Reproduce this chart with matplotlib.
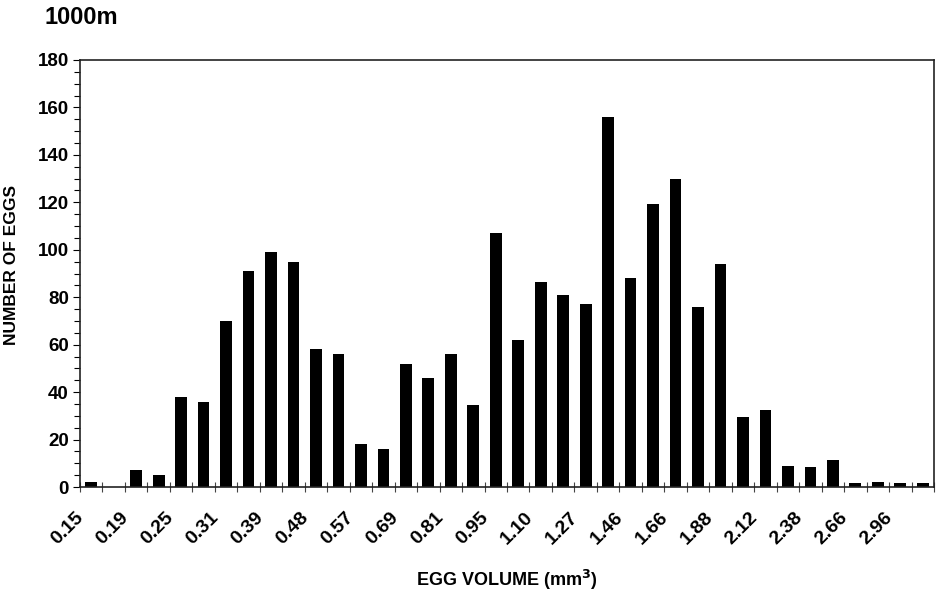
import numpy as np
import matplotlib
matplotlib.use('Agg')
import matplotlib.pyplot as plt
import matplotlib.transforms as mtransforms
from matplotlib.ticker import MultipleLocator

matplotlib.rc('font', family='Liberation Sans', weight='bold', size=13)
matplotlib.rc('axes', labelweight='bold')

# egg counts per volume class (38 classes)
counts = [2, 0, 7, 5, 38, 36, 70, 91, 99, 95, 58, 56, 18, 16, 52, 46, 56, 34.5,
          107, 62, 86.5, 81, 77, 156, 88, 119.5, 130, 76, 94, 29.5, 32.5, 9, 8.5,
          11.5, 1.5, 2, 1.5, 1.5]
# labels sit on every other class boundary
tick_labels = ['0.15', '0.19', '0.25', '0.31', '0.39', '0.48', '0.57', '0.69',
               '0.81', '0.95', '1.10', '1.27', '1.46', '1.66', '1.88', '2.12',
               '2.38', '2.66', '2.96']

fig = plt.figure(figsize=(9.45, 5.94), dpi=100)
ax = fig.add_axes([80 / 945, 1 - 487 / 594, 854 / 945, 427 / 594])

x = np.arange(len(counts)) + 0.5
ax.bar(x, counts, width=0.52, color='black', edgecolor='none')

ax.set_xlim(0, len(counts))
ax.set_ylim(0, 180)
ax.yaxis.set_major_locator(MultipleLocator(20))
ax.yaxis.set_minor_locator(MultipleLocator(5))

ax.set_xticks(np.arange(len(counts) + 1), minor=True)
ax.set_xticks(np.arange(0, 2 * len(tick_labels), 2))
ax.set_xticklabels(tick_labels, rotation=45, ha='right', va='top',
                   rotation_mode='anchor')
ax.tick_params(axis='x', which='both', direction='inout', length=7, width=0.8,
               color='#444444', pad=12, labelsize=14)
ax.tick_params(axis='y', which='major', direction='out', length=5, width=0.8,
               labelsize=13.5, pad=3)
ax.tick_params(axis='y', which='minor', direction='out', length=4, width=0.8)

# nudge rotated labels a little to the left so they end at the tick
shift = mtransforms.ScaledTranslation(-5 / 100, 0, fig.dpi_scale_trans)
for lbl in ax.get_xticklabels():
    lbl.set_transform(lbl.get_transform() + shift)

for s in ax.spines.values():
    s.set_linewidth(1.2)
    s.set_color('#222222')

ax.set_ylabel('NUMBER OF EGGS', fontsize=12.5)
ax.yaxis.set_label_coords(-0.072, 0.52)
ax.set_xlabel('EGG VOLUME (mm$^\\mathbf{3}$)', fontsize=13)
ax.xaxis.set_label_coords(0.5, -0.19)
fig.text(45 / 945, 1 - 17 / 594, '1000m', fontsize=17, ha='left', va='center')

plt.savefig('out.png', dpi=100)
